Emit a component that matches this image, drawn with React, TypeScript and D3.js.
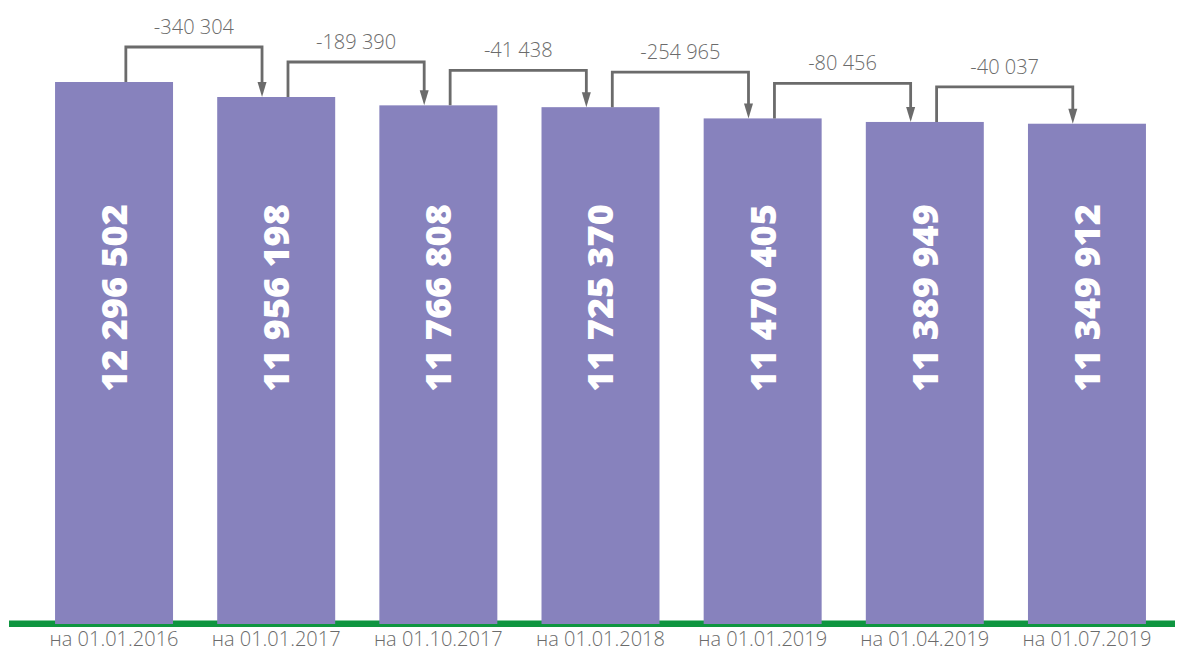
import React from "react";
import * as d3 from "d3";

const dates = [
    "на 01.01.2016",
    "на 01.01.2017",
    "на 01.10.2017",
    "на 01.01.2018",
    "на 01.01.2019",
    "на 01.04.2019",
    "на 01.07.2019",
];
const totals = [12296502, 11956198, 11766808, 11725370, 11470405, 11389949, 11349912];

const W = 1184;
const H = 651;
const BASE = 624;

const fmt = (n: number): string => {
    const s = Math.abs(n).toString().replace(/\B(?=(\d{3})+(?!\d))/g, " ");
    return (n < 0 ? "-" : "") + s;
};

const App = () => {
    const x = d3
        .scaleBand<string>()
        .domain(dates)
        .range([33, 1168])
        .paddingInner(0.2724)
        .paddingOuter(0.136);

    const y = d3
        .scaleLinear()
        .domain([0, d3.max(totals) as number])
        .range([BASE, 82]);

    const bw = x.bandwidth();

    // connector between neighbouring bars, labelled with the change
    const links = d3.pairs(totals.map((v, i) => ({ v, i }))).map(([a, b]) => {
        const x1 = (x(dates[a.i]) as number) + bw * 0.6;
        const x2 = (x(dates[b.i]) as number) + bw * 0.38;
        const top = Math.min(y(a.v), y(b.v)) - 35;
        return { x1, x2, top, y1: y(a.v), y2: y(b.v), diff: b.v - a.v };
    });

    const grey = "#6b6b6b";

    return (
        <svg
            width={W}
            height={H}
            style={{ position: "absolute", left: 0, top: 0, background: "#fff" }}
        >
            <rect x={9} y={620.5} width={1166} height={6.5} fill="#0f9540" />

            {totals.map((v, i) => {
                const bx = x(dates[i]) as number;
                return (
                    <g key={dates[i]}>
                        <rect x={bx} y={y(v)} width={bw} height={BASE - y(v)} fill="#8782bd" />
                        <text
                            transform={`translate(${bx + bw / 2},298) rotate(-90)`}
                            textAnchor="middle"
                            dy="0.36em"
                            fill="#fff"
                            fontFamily="'Open Sans', sans-serif"
                            fontWeight={800}
                            fontSize={36}
                        >
                            {fmt(v)}
                        </text>
                        <text
                            x={bx + bw / 2}
                            y={646}
                            textAnchor="middle"
                            fill={grey}
                            fontFamily="'Open Sans', sans-serif"
                            fontWeight={300}
                            fontSize={20}
                        >
                            {dates[i]}
                        </text>
                    </g>
                );
            })}

            {links.map((l, i) => (
                <g key={i}>
                    <polyline
                        points={`${l.x1},${l.y1} ${l.x1},${l.top} ${l.x2},${l.top} ${l.x2},${l.y2 - 12}`}
                        fill="none"
                        stroke={grey}
                        strokeWidth={2.8}
                    />
                    <path
                        d={`M${l.x2 - 4.5},${l.y2 - 15} L${l.x2 + 4.5},${l.y2 - 15} L${l.x2},${l.y2} Z`}
                        fill={grey}
                    />
                    <text
                        x={(l.x1 + l.x2) / 2}
                        y={l.top - 13}
                        textAnchor="middle"
                        fill={grey}
                        fontFamily="'Open Sans', sans-serif"
                        fontWeight={300}
                        fontSize={20}
                    >
                        {fmt(l.diff)}
                    </text>
                </g>
            ))}
        </svg>
    );
};

export default App;
